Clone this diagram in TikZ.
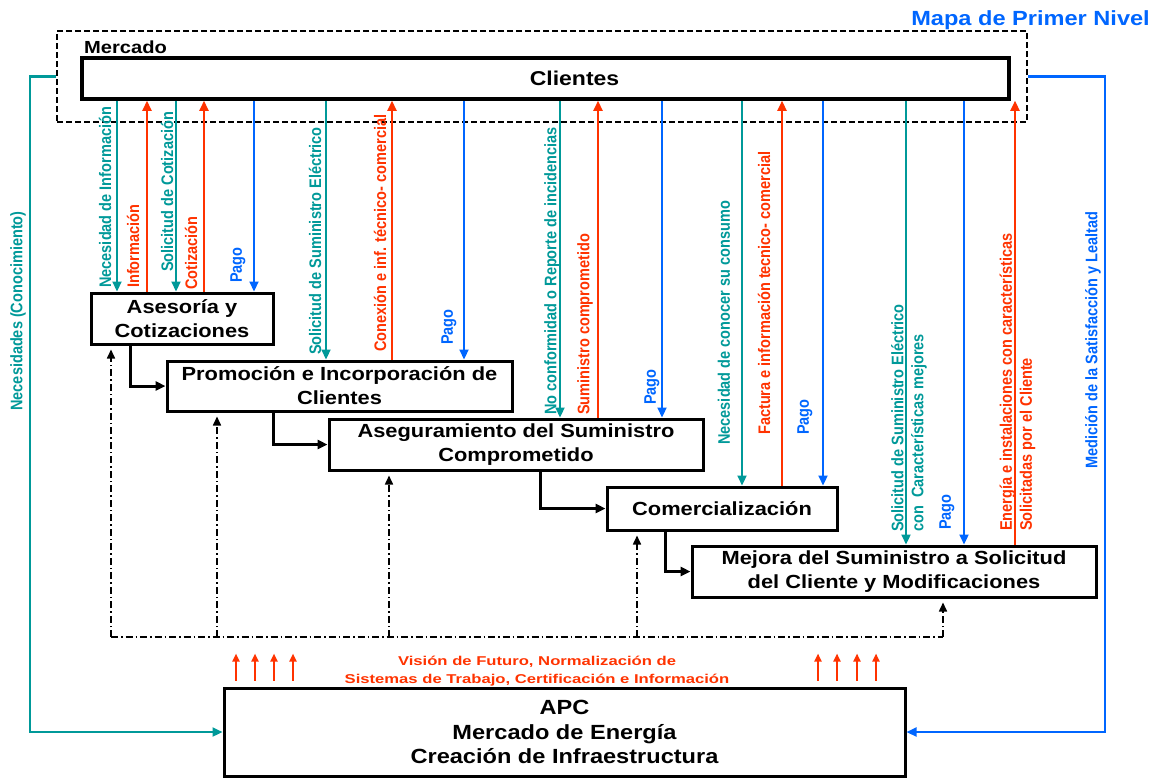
\documentclass[tikz,border=0pt]{standalone}
\usepackage{fontspec}
\setmainfont{Liberation Sans}
\newfontfamily\wideA{Liberation Sans}[FakeStretch=1.15]
\newfontfamily\wideB{Liberation Sans}[FakeStretch=1.3]
\newfontfamily\narrowA{Liberation Sans}[FakeStretch=0.87]
\usetikzlibrary{arrows.meta}
\definecolor{tealc}{RGB}{0,153,153}
\definecolor{redc}{RGB}{255,51,0}
\definecolor{bluec}{RGB}{0,102,255}
\begin{document}
\begin{tikzpicture}[x=1pt,y=-1pt,
  procbox/.style={draw, line width=3pt, inner sep=0pt, align=center, fill=white,
    font=\wideA\bfseries\fontsize{19}{24}\selectfont},
  lab/.style={rotate=90, anchor=west, inner sep=0pt, align=left,
    font=\narrowA\bfseries\fontsize{16.7}{20}\selectfont},
  tarr/.style={draw=tealc, line width=2.2pt, -{Triangle[length=10pt,width=9pt]}},
  rarr/.style={draw=redc, line width=2.2pt, -{Triangle[length=10pt,width=9pt]}},
  barr/.style={draw=bluec, line width=2.2pt, -{Triangle[length=10pt,width=9pt]}},
  flow/.style={line width=3pt, -{Triangle[length=10pt,width=9pt]}},
  dd/.style={line width=1.6pt, dash pattern=on 7pt off 3pt on 1.5pt off 3pt},
  ddarr/.style={dd, -{Triangle[length=9pt,width=8pt]}, shorten >=4pt},
  rsmall/.style={draw=redc, line width=2pt, -{Triangle[length=8pt,width=7pt]}}
]
\useasboundingbox (0,0) rectangle (1156,777);
\fill[white] (0,0) rectangle (1156,777);

% top labels and market frame
\node[font=\wideA\bfseries\fontsize{20.5}{24}\selectfont, text=bluec, anchor=base east, inner sep=0pt] (mapa) at (1150,25) {Mapa de Primer Nivel};
\node[draw, line width=2pt, dash pattern=on 6pt off 3pt, minimum width=970pt, minimum height=91pt, inner sep=0pt] (mercado) at (542,76.5) {};
\node[anchor=base west, inner sep=0pt, font=\wideA\bfseries\fontsize{17.5}{20}\selectfont] (mercadolbl) at (84,53) {Mercado};
\node[procbox, line width=3.5pt, minimum width=927pt, minimum height=41pt, font=\wideA\bfseries\fontsize{20}{24}\selectfont] (clientes) at (545.5,78.5) {\hspace*{58pt}Clientes};

% process boxes
\node[procbox, minimum width=182pt, minimum height=51pt] (asesoria) at (182,318.5) {Asesoría y\\Cotizaciones};
\node[procbox, minimum width=345pt, minimum height=50pt] (promocion) at (339.5,386) {Promoción e Incorporación de\\Clientes};
\node[procbox, minimum width=374pt, minimum height=51pt] (asegur) at (516,444.5) {Aseguramiento del Suministro\\Comprometido};
\node[procbox, minimum width=230pt, minimum height=43pt] (comerc) at (722,508.5) {Comercialización};
\node[procbox, minimum width=404pt, minimum height=51pt] (mejora) at (894,571.5) {Mejora del Suministro a Solicitud\\del Cliente y Modificaciones};
\node[procbox, minimum width=681pt, minimum height=88pt, font=\wideA\bfseries\fontsize{20.5}{24.5}\selectfont] (apc) at (564.5,732) {APC\\Mercado de Energía\\Creación de Infraestructura};

% flow between processes
\draw[flow] (asesoria.south -| 130,0) |- (promocion.west);
\draw[flow] (promocion.south -| 273,0) |- (asegur.west);
\draw[flow] (asegur.south -| 540,0) |- (comerc.west);
\draw[flow] (comerc.south -| 665,0) |- (mejora.west);

% vertical flows with the clients
\draw[tarr] (clientes.south -| 117,0) -- (asesoria.north -| 117,0);
\draw[rarr] (asesoria.north -| 147,0) -- (clientes.south -| 147,0);
\draw[tarr] (clientes.south -| 176,0) -- (asesoria.north -| 176,0);
\draw[rarr] (asesoria.north -| 204,0) -- (clientes.south -| 204,0);
\draw[barr] (clientes.south -| 254,0) -- (asesoria.north -| 254,0);
\draw[tarr] (clientes.south -| 326,0) -- (promocion.north -| 326,0);
\draw[rarr] (promocion.north -| 392,0) -- (clientes.south -| 392,0);
\draw[barr] (clientes.south -| 464,0) -- (promocion.north -| 464,0);
\draw[tarr] (clientes.south -| 560,0) -- (asegur.north -| 560,0);
\draw[rarr] (asegur.north -| 598,0) -- (clientes.south -| 598,0);
\draw[barr] (clientes.south -| 662,0) -- (asegur.north -| 662,0);
\draw[tarr] (clientes.south -| 742,0) -- (comerc.north -| 742,0);
\draw[rarr] (comerc.north -| 782,0) -- (clientes.south -| 782,0);
\draw[barr] (clientes.south -| 823,0) -- (comerc.north -| 823,0);
\draw[tarr] (clientes.south -| 906,0) -- (mejora.north -| 906,0);
\draw[barr] (clientes.south -| 964,0) -- (mejora.north -| 964,0);
\draw[rarr] (mejora.north -| 1015,0) -- (clientes.south -| 1015,0);

% labels of vertical flows
\node[lab, text=tealc] (l1) at (105,288) {Necesidad de Información};
\node[lab, text=redc] (l2) at (133,288) {Información};
\node[lab, text=tealc] (l3) at (167,272) {Solicitud de Cotización};
\node[lab, text=redc] (l4) at (191,290) {Cotización};
\node[lab, text=bluec] (l5) at (238,283) {Pago};
\node[lab, text=tealc] (l6) at (315,355) {Solicitud de Suministro Eléctrico};
\node[lab, text=redc] (l7) at (380,352) {Conexión e inf. técnico- comercial};
\node[lab, text=bluec] (l8) at (449,345) {Pago};
\node[lab, text=tealc] (l9) at (552,415) {No conformidad o Reporte de incidencias};
\node[lab, text=redc] (l10) at (585,415) {Suministro comprometido};
\node[lab, text=bluec] (l11) at (652,405) {Pago};
\node[lab, text=tealc] (l12) at (724,445) {Necesidad de conocer su consumo};
\node[lab, text=redc] (l13) at (764,435) {Factura e información tecnico- comercial};
\node[lab, text=bluec] (l14) at (805,435) {Pago};
\node[lab, text=tealc] (l15) at (909,532) {Solicitud de Suministro Eléctrico\\con\ \ Características mejores};
\node[lab, text=bluec] (l16) at (947,530) {Pago};
\node[lab, text=redc] (l17) at (1017.5,531) {Energía e instalaciones con características\\Solicitadas por el Cliente};

% outer loops
\draw[tarr] (mercado.west) -- (30,76.5) |- (apc.west);
\draw[barr] (mercado.east) -- (1105,76.5) |- (apc.east);
\node[lab, anchor=center, text=tealc] (nec) at (18,311) {Necesidades (Conocimiento)};
\node[lab, anchor=center, text=bluec] (med) at (1093,340) {Medición de la Satisfacción y Lealtad};

% feedback dash-dot lines
\coordinate (fb1) at (111,637);
\coordinate (fb2) at (217,637);
\coordinate (fb3) at (389,637);
\coordinate (fb4) at (637,637);
\coordinate (fb5) at (943,637);
\draw[dd] (fb1) -- (fb5);
\draw[ddarr] (fb1) -- (asesoria.south -| fb1);
\draw[ddarr] (fb2) -- (promocion.south -| fb2);
\draw[ddarr] (fb3) -- (asegur.south -| fb3);
\draw[ddarr] (fb4) -- (comerc.south -| fb4);
\draw[ddarr] (fb5) -- (mejora.south -| fb5);

% support arrows from APC
\foreach \x in {236,255,274,293,818,837,857,876}
  \draw[rsmall, shorten <=6pt] (apc.north -| \x,0) -- ++(0,-33);
\node[text=redc, align=center, inner sep=0pt, font=\wideB\bfseries\fontsize{12.8}{18}\selectfont] (vision) at (537,671) {Visión de Futuro, Normalización de\\Sistemas de Trabajo, Certificación e Información};
\end{tikzpicture}
\end{document}
